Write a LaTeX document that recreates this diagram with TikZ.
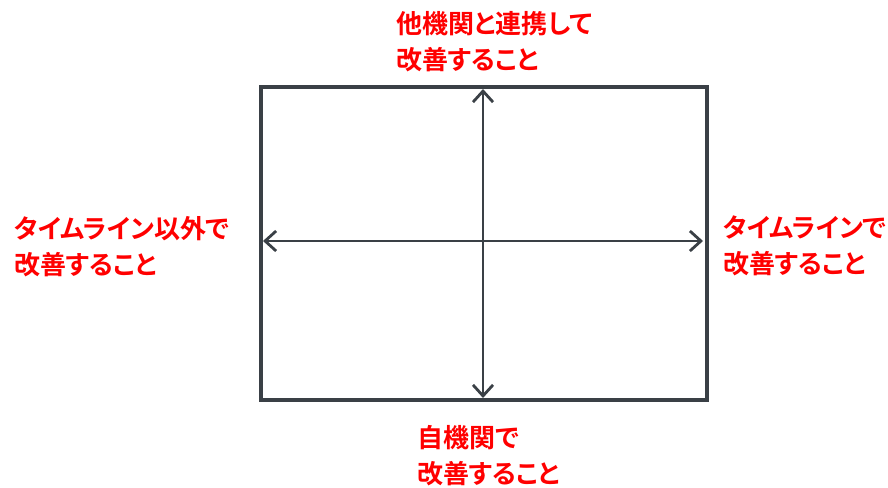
\documentclass[tikz,border=0pt]{standalone}
\usepackage{fontspec}
\setmainfont{Noto Sans CJK JP}[BoldFont={Noto Sans CJK JP Bold},RawFeature=+palt]
\usetikzlibrary{arrows.meta}
\definecolor{frame}{HTML}{3A4046}
\definecolor{lab}{HTML}{FF0000}
\begin{document}
\begin{tikzpicture}[x=1pt,y=-1pt,
  lbl/.style={text=lab,font=\bfseries\fontsize{26}{36}\selectfont,align=left,anchor=north west,inner sep=0pt},
  axis/.style={draw=frame,line width=2.8pt,{Straight Barb[length=11pt,width=20pt,line width=2.8pt]}-{Straight Barb[length=11pt,width=20pt,line width=2.8pt]}}]
\useasboundingbox (0,0) rectangle (888,487);
\draw[frame,line width=4pt] (261,87) rectangle (707,400);
\coordinate (t) at (483,89);
\coordinate (b) at (483,398);
\coordinate (l) at (263,241);
\coordinate (r) at (703,241);
\draw[axis] (t) -- (b);
\draw[axis] (l) -- (r);
\node[lbl] (top) at (396,11) {他機関と連携して\\改善すること};
\node[lbl] (left) at (14,216) {タイムライン以外で\\改善すること};
\node[lbl] (right) at (723,216) {タイムラインで\\改善すること};
\node[lbl] (bottom) at (417,425) {自機関で\\改善すること};
\end{tikzpicture}
\end{document}
